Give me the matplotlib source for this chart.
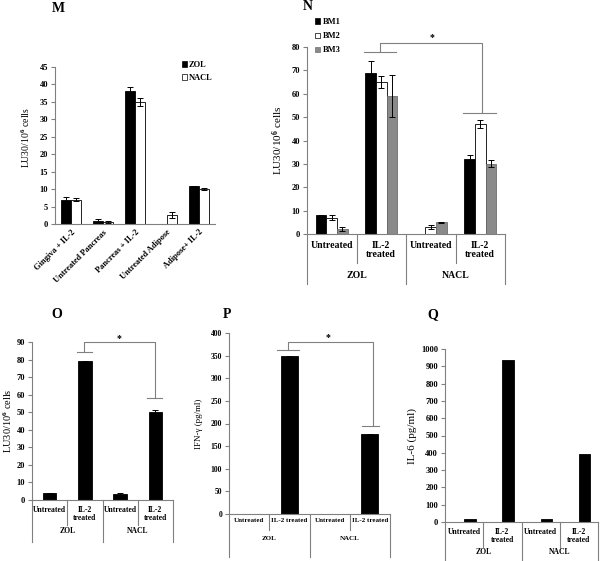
import numpy as np
import matplotlib
matplotlib.use('Agg')
import matplotlib.pyplot as plt
import matplotlib.transforms as mtransforms
from matplotlib.patches import Patch

plt.rcParams['font.family'] = ['Liberation Serif', 'DejaVu Serif']
plt.rcParams['font.weight'] = 'bold'
plt.rcParams['mathtext.fontset'] = 'custom'
plt.rcParams['mathtext.rm'] = 'Liberation Serif:bold'
plt.rcParams['mathtext.it'] = 'Liberation Serif:bold'
plt.rcParams['mathtext.bf'] = 'Liberation Serif:bold'

W, H = 600, 561
GRAY = '#808080'
LU = 'LU30/10$^{6}$ cells'

# panel M
m_labels = ['Gingiva + IL-2', 'Untreated Pancreas', 'Pancreas + IL-2', 'Untreated Adipose', 'Adipose+ IL-2']
m_zol = [7, 1, 38, 0, 11]
m_zol_err = [0.7, 0.5, 1.3, 0, 0]
m_nacl = [7, 0.6, 35, 2.5, 10]
m_nacl_err = [0.4, 0.2, 1.2, 0.8, 0.2]

# shared category labels for N, O, Q
sub_labels = ['Untreated', 'IL-2\ntreated', 'Untreated', 'IL-2\ntreated']
group_labels = ['ZOL', 'NACL']

# panel N
n_bm1 = [8, 69, 0, 32]
n_bm1_err = [0.3, 5, 0, 2]
n_bm2 = [7, 65, 3, 47]
n_bm2_err = [1, 2.5, 1, 1.8]
n_bm3 = [2, 59, 5, 30]
n_bm3_err = [0.8, 9, 0.3, 1.5]

# panel O
o_vals = [4, 79, 3.5, 50]
o_err = [0.2, 0.3, 0.4, 1.5]

# panel P
p_labels = ['Untreated', 'IL-2 treated', 'Untreated', 'IL-2 treated']
p_vals = [0, 349, 0, 176]
p_err = [0, 1, 0, 1]

# panel Q
q_blank = [0, 0, 0, 0]
q_vals = [15, 935, 15, 393]

fig = plt.figure(figsize=(W / 100, H / 100), dpi=100)


def px_axes(left, top, right, bottom):
    return fig.add_axes([left / W, 1 - bottom / H, (right - left) / W, (bottom - top) / H])


def style(ax, ymax, step, fs):
    ax.set_ylim(0, ymax)
    ax.set_yticks(np.arange(0, ymax + 1, step))
    for s in ['top', 'right']:
        ax.spines[s].set_visible(False)
    for s in ['left', 'bottom']:
        ax.spines[s].set_color(GRAY)
        ax.spines[s].set_linewidth(0.8)
    ax.tick_params(axis='y', length=3, width=0.8, color=GRAY, labelsize=fs, pad=2)


def hier_axis(ax, subs, groups, inner, outer, sub_off, grp_off, fs, ls=1.0):
    n = len(subs)
    ax.set_xlim(-0.5, n - 0.5)
    ax.set_xticks([])
    trans = mtransforms.blended_transform_factory(ax.transData, ax.transAxes)
    hpx = ax.bbox.height
    for b in np.arange(-0.5, n, 1.0):
        depth = outer if (b + 0.5) % 2 == 0 else inner
        ax.plot([b, b], [0, -depth / hpx], color=GRAY, lw=0.8, transform=trans, clip_on=False)
    for i, lab in enumerate(subs):
        ax.annotate(lab, xy=(i, 0), xycoords=trans, xytext=(0, -sub_off * 0.72),
                    textcoords='offset points', ha='center', va='top', fontsize=fs,
                    linespacing=ls)
    for j, lab in enumerate(groups):
        ax.annotate(lab, xy=(2 * j + 0.5, 0), xycoords=trans, xytext=(0, -grp_off * 0.72),
                    textcoords='offset points', ha='center', va='center', fontsize=fs)


def bracket(ax, x1, y1, x2, y2, top, l1, l2, sx, sy, fs):
    ax.plot([l1[0], l1[1]], [y1, y1], color=GRAY, lw=0.8, clip_on=False)
    ax.plot([l2[0], l2[1]], [y2, y2], color=GRAY, lw=0.8, clip_on=False)
    ax.plot([x1, x1, x2, x2], [y1, top, top, y2], color=GRAY, lw=0.8, clip_on=False)
    ax.text(sx, sy, '*', ha='center', va='center', fontsize=fs, clip_on=False)


ekw = dict(ecolor='black', elinewidth=0.7, capsize=2, capthick=0.7)

# ---- M ----
ax = px_axes(55, 67, 215, 224)
style(ax, 45, 5, 6)
x = np.arange(len(m_labels))
ax.bar(x - 0.15, m_zol, 0.3, yerr=m_zol_err, color='black', edgecolor='black', lw=0.6, error_kw=ekw)
ax.bar(x + 0.15, m_nacl, 0.3, yerr=m_nacl_err, color='white', edgecolor='black', lw=0.6, error_kw=ekw)
ax.set_xlim(-0.5, 4.5)
ax.set_xticks(x)
ax.set_xticklabels(m_labels, rotation=45, ha='right', rotation_mode='anchor', fontsize=6)
ax.tick_params(axis='x', length=0, pad=3)
ax.set_ylabel(LU, fontsize=7)
ax.yaxis.set_label_coords(-0.144, 0.55)
ax.legend(handles=[Patch(facecolor='black', edgecolor='black', lw=0.5, label='ZOL'),
                   Patch(facecolor='white', edgecolor='black', lw=0.5, label='NACL')],
          loc='upper left', bbox_to_anchor=(182 / W, 1 - 61 / H), bbox_transform=fig.transFigure,
          frameon=False, fontsize=6, handlelength=0.6, handleheight=0.6, handletextpad=0.2,
          labelspacing=0.6, borderpad=0, borderaxespad=0)
fig.text(58 / W, 1 - 8 / H, 'M', ha='center', va='center', fontsize=10)

# ---- N ----
ax = px_axes(307, 47, 505, 234)
style(ax, 80, 10, 6)
x = np.arange(4)
bw = 0.215
ax.bar(x - bw, n_bm1, bw, yerr=n_bm1_err, color='black', edgecolor='black', lw=0.6, error_kw=ekw)
ax.bar(x, n_bm2, bw, yerr=n_bm2_err, color='white', edgecolor='black', lw=0.6, error_kw=ekw)
ax.bar(x + bw, n_bm3, bw, yerr=n_bm3_err, color='#8a8a8a', edgecolor='#6e6e6e', lw=0.6, error_kw=ekw)
hier_axis(ax, sub_labels, group_labels, 29, 50, 7, 42, 7)
bracket(ax, 0.975, 77.8, 3.03, 51.7, 81.6, (0.65, 1.3), (2.65, 3.32), 2.03, 84, 7)
ax.set_ylabel(LU, fontsize=8)
ax.yaxis.set_label_coords(-0.111, 0.5)
ax.legend(handles=[Patch(facecolor='black', edgecolor='black', lw=0.5, label='BM1'),
                   Patch(facecolor='white', edgecolor='black', lw=0.5, label='BM2'),
                   Patch(facecolor='#8a8a8a', edgecolor='#6e6e6e', lw=0.5, label='BM3')],
          loc='upper left', bbox_to_anchor=(315 / W, 1 - 18 / H), bbox_transform=fig.transFigure,
          frameon=False, fontsize=6, handlelength=0.6, handleheight=0.6, handletextpad=0.3,
          labelspacing=0.75, borderpad=0, borderaxespad=0)
fig.text(308 / W, 1 - 7 / H, 'N', ha='center', va='center', fontsize=10)

# ---- O ----
ax = px_axes(32, 342, 173, 500)
style(ax, 90, 10, 6)
x = np.arange(4)
ax.bar(x, o_vals, 0.38, yerr=o_err, color='black', edgecolor='black', lw=0.6, error_kw=ekw)
hier_axis(ax, sub_labels, group_labels, 25, 42, 6, 31, 5.5)
bracket(ax, 0.98, 84.3, 2.99, 58, 90, (0.78, 1.2), (2.76, 3.19), 1.97, 91.7, 7)
ax.set_ylabel(LU, fontsize=7.5)
ax.yaxis.set_label_coords(-0.128, 0.5)
fig.text(57 / W, 1 - 315 / H, 'O', ha='center', va='center', fontsize=10)

# ---- P ----
ax = px_axes(229, 333, 390, 514)
style(ax, 400, 50, 5.5)
x = np.arange(4)
ax.bar(x, p_vals, 0.42, yerr=p_err, color='black', edgecolor='black', lw=0.6, error_kw=ekw)
hier_axis(ax, p_labels, group_labels, 16, 43, 4, 24, 5)
bracket(ax, 0.97, 362, 3.08, 195, 380, (0.69, 1.24), (2.8, 3.23), 1.96, 389, 7)
ax.set_ylabel('IFN-γ (pg/ml)', fontsize=6.5)
ax.yaxis.set_label_coords(-0.161, 0.5)
fig.text(227 / W, 1 - 315 / H, 'P', ha='center', va='center', fontsize=10)

# ---- Q ----
ax = px_axes(445, 349, 598, 522)
style(ax, 1000, 100, 6)
x = np.arange(4)
ax.bar(x - 0.15, q_blank, 0.3, color='white', edgecolor=GRAY, lw=0.4)
ax.bar(x + 0.15, q_vals, 0.3, color='black', edgecolor='black', lw=0.6)
hier_axis(ax, sub_labels, group_labels, 25, 45, 6, 30, 5.5)
ax.set_ylabel('IL-6 (pg/ml)', fontsize=8)
ax.yaxis.set_label_coords(-0.18, 0.5)
fig.text(433 / W, 1 - 315 / H, 'Q', ha='center', va='center', fontsize=10)

fig.savefig('out.png', dpi=100)
